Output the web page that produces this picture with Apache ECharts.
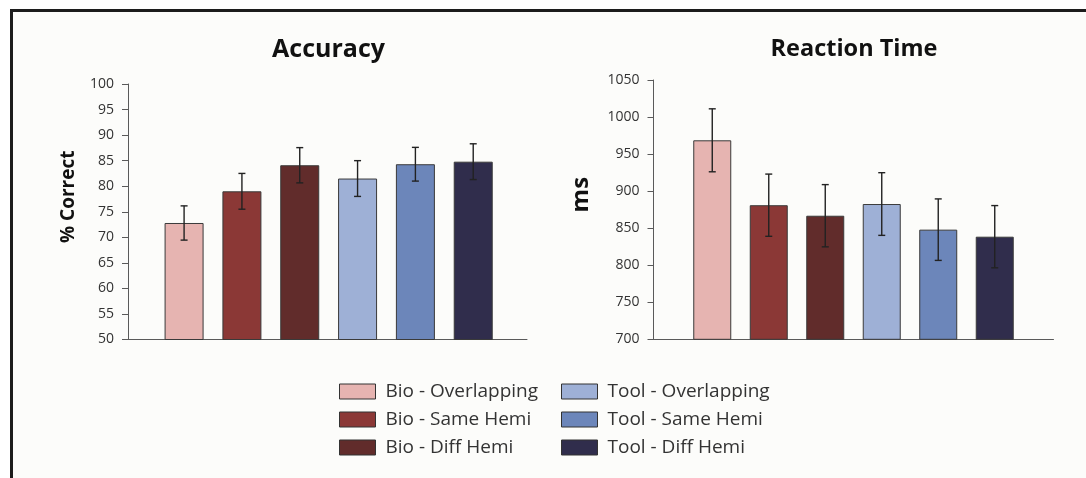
<!DOCTYPE html>
<html><head><meta charset="utf-8">
<script src="https://cdn.jsdelivr.net/npm/echarts@6/dist/echarts.min.js"></script>
<style>html,body{margin:0;padding:0;background:#fff}#c{width:1086px;height:478px}</style>
</head><body><div id="c"></div><script>
// ---- data ----
const conditions = ['Bio - Overlapping', 'Bio - Same Hemi', 'Bio - Diff Hemi', 'Tool - Overlapping', 'Tool - Same Hemi', 'Tool - Diff Hemi'];
const accuracyMean = [72.8, 79.0, 84.1, 81.5, 84.3, 84.8];
const accuracyErr = [3.35, 3.5, 3.45, 3.5, 3.3, 3.5];
const rtMean = [968.6, 881.0, 866.8, 882.6, 848.0, 838.5];
const rtErr = [42.5, 42.0, 42.0, 42.3, 41.5, 42.0];
const accuracyAxis = { min: 50, max: 100, interval: 5 };
const rtAxis = { min: 700, max: 1050, interval: 50 };
const titles = ['Accuracy', 'Reaction Time'];
const yNames = ['% Correct', 'ms'];

// ---- style ----
const colors = ['#e6b4b1', '#8b3836', '#612c2b', '#9eb0d6', '#6c86ba', '#302d4c'];
const FONT = 'Open Sans';
const axisColor = '#5a5a5a';

const chart = echarts.init(document.getElementById('c'), null, { renderer: 'canvas' });

function errRender(params, api) {
  const x = api.value(0), lo = api.value(1), hi = api.value(2);
  const t = api.coord([x, hi]), b = api.coord([x, lo]);
  const cap = 3.5;
  const st = { stroke: '#222', lineWidth: 1.4 };
  return {
    type: 'group', children: [
      { type: 'line', shape: { x1: t[0], y1: t[1], x2: b[0], y2: b[1] }, style: st },
      { type: 'line', shape: { x1: t[0] - cap, y1: t[1], x2: t[0] + cap, y2: t[1] }, style: st },
      { type: 'line', shape: { x1: b[0] - cap, y1: b[1], x2: b[0] + cap, y2: b[1] }, style: st }
    ]
  };
}

const series = [];
[accuracyMean, rtMean].forEach((means, g) => {
  means.forEach((m, i) => {
    series.push({
      type: 'bar', name: conditions[i], xAxisIndex: g, yAxisIndex: g,
      data: [[i, m]], barWidth: g === 0 ? 39 : 38, barGap: '-100%',
      itemStyle: { color: colors[i], borderColor: '#3a3a3a', borderWidth: 1 },
      emphasis: { disabled: true }, animation: false
    });
  });
  const errs = g === 0 ? accuracyErr : rtErr;
  series.push({
    type: 'custom', xAxisIndex: g, yAxisIndex: g, z: 5,
    renderItem: errRender, animation: false,
    data: means.map((m, i) => [i, m - errs[i], m + errs[i]]),
    encode: { x: 0, y: [1, 2] }
  });
});

const yCommon = {
  type: 'value', nameLocation: 'middle', nameRotate: 90,
  axisLine: { show: true, onZero: false, lineStyle: { color: axisColor, width: 1 } },
  axisTick: { show: true, length: 6, lineStyle: { color: axisColor } },
  axisLabel: { color: '#333', fontSize: 14, fontFamily: FONT, margin: 14, formatter: v => String(v) },
  splitLine: { show: false },
  nameTextStyle: { color: '#111', fontWeight: 'bold', fontFamily: FONT, padding: [0, 0, 0, 30] }
};
const xCommon = {
  type: 'value', axisLabel: { show: false }, axisTick: { show: false }, splitLine: { show: false },
  axisLine: { show: true, onZero: false, lineStyle: { color: axisColor, width: 1 } }
};

const legendCommon = {
  orient: 'vertical', top: 382, itemWidth: 36, itemHeight: 15, itemGap: 9, icon: 'rect',
  selectedMode: false, padding: 0,
  itemStyle: { borderColor: '#333', borderWidth: 1 },
  textStyle: { fontSize: 19, color: '#333', fontFamily: FONT, padding: [0, 0, 0, 5] }
};

chart.setOption({
  backgroundColor: '#ffffff',
  animation: false,
  graphic: [
    { type: 'rect', shape: { x: 13, y: 12, width: 1073, height: 466 }, style: { fill: '#fcfcfa' }, z: -10 },
    { type: 'line', shape: { x1: 10, y1: 10.5, x2: 1086, y2: 10.5 }, style: { stroke: '#1c1c1c', lineWidth: 3 } },
    { type: 'line', shape: { x1: 11.5, y1: 9, x2: 11.5, y2: 478 }, style: { stroke: '#1c1c1c', lineWidth: 3 } }
  ],
  title: [
    { text: titles[0], left: 323.5, top: 32, textAlign: 'center', textStyle: { fontSize: 25, fontWeight: 'bold', color: '#111', fontFamily: FONT } },
    { text: titles[1], left: 849, top: 32, textAlign: 'center', textStyle: { fontSize: 23.5, fontWeight: 'bold', color: '#111', fontFamily: FONT } }
  ],
  legend: [
    Object.assign({}, legendCommon, { left: 339, data: conditions.slice(0, 3) }),
    Object.assign({}, legendCommon, { left: 561, data: conditions.slice(3) })
  ],
  grid: [
    { left: 128, top: 84, width: 399, height: 255.5 },
    { left: 653.5, top: 80, width: 400, height: 259.3 }
  ],
  xAxis: [
    Object.assign({}, xCommon, { gridIndex: 0, min: -0.97, max: 5.93 }),
    Object.assign({}, xCommon, { gridIndex: 1, min: -1.04, max: 6.04 })
  ],
  yAxis: [
    Object.assign({}, yCommon, { gridIndex: 0, min: accuracyAxis.min, max: accuracyAxis.max, interval: accuracyAxis.interval, name: yNames[0], nameGap: 50, nameTextStyle: Object.assign({}, yCommon.nameTextStyle, { fontSize: 19 }) }),
    Object.assign({}, yCommon, { gridIndex: 1, min: rtAxis.min, max: rtAxis.max, interval: rtAxis.interval, name: yNames[1], nameGap: 60, nameTextStyle: Object.assign({}, yCommon.nameTextStyle, { fontSize: 24 }) })
  ],
  series: series
});
</script></body></html>
